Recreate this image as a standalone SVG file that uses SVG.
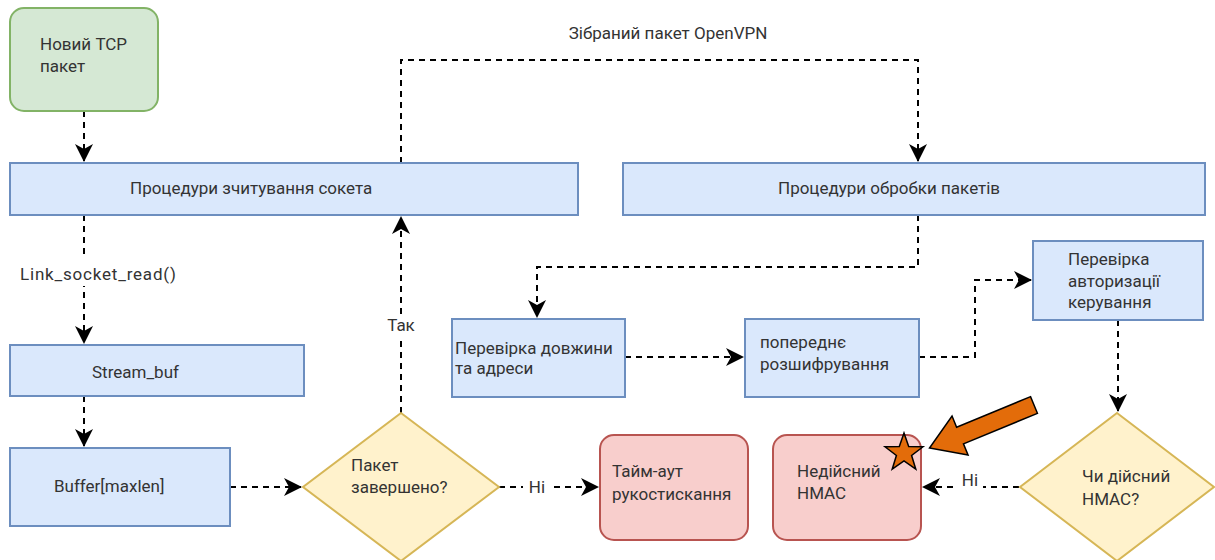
<svg xmlns="http://www.w3.org/2000/svg" width="1215" height="560" viewBox="0 0 1215 560">
  <defs>
    <style>
      text { font-family: Roboto, "Liberation Sans", sans-serif; font-size: 17px; fill: #333333; }
      .blue { fill: #dae8fc; stroke: #6c8ebf; stroke-width: 2; }
      .green { fill: #d5e8d4; stroke: #82b366; stroke-width: 2; }
      .yellow { fill: #fff2cc; stroke: #d6b656; stroke-width: 2; }
      .red { fill: #f8cecc; stroke: #b85450; stroke-width: 2; }
      .edge { fill: none; stroke: #000000; stroke-width: 2; stroke-dasharray: 6 5; }
      .lblbg { fill: #ffffff; }
    </style>
    <marker id="arrow" viewBox="0 0 18 20" refX="17" refY="10" markerWidth="18" markerHeight="20" markerUnits="userSpaceOnUse" orient="auto">
      <path d="M0,1 L18,10 L0,19 L5,10 z" fill="#000000"/>
    </marker>
  </defs>

  <rect width="1215" height="560" fill="#ffffff"/>

  <!-- connectors -->
  <g id="connectors">
    <path class="edge" d="M84,111 V161" marker-end="url(#arrow)"/>
    <path class="edge" d="M401,163 V60 H918 V161" marker-end="url(#arrow)"/>
    <path class="edge" d="M84,215 V343" marker-end="url(#arrow)"/>
    <path class="edge" d="M84,396 V446" marker-end="url(#arrow)"/>
    <path class="edge" d="M230,487 H301" marker-end="url(#arrow)"/>
    <path class="edge" d="M401,413 V217" marker-end="url(#arrow)"/>
    <path class="edge" d="M499,487 H598" marker-end="url(#arrow)"/>
    <path class="edge" d="M918,215 V267 H537 V317" marker-end="url(#arrow)"/>
    <path class="edge" d="M625,357 H743" marker-end="url(#arrow)"/>
    <path class="edge" d="M919,357 H975 V280 H1031" marker-end="url(#arrow)"/>
    <path class="edge" d="M1118,320 V411" marker-end="url(#arrow)"/>
    <path class="edge" d="M1019,487 H923" marker-end="url(#arrow)"/>

    <!-- edge labels -->
    <text x="668" y="39" text-anchor="middle">Зібраний пакет OpenVPN</text>
    <rect class="lblbg" x="16" y="256" width="174" height="30"/>
    <text x="20" y="280" font-size="21" letter-spacing="0.8">Link_socket_read()</text>
    <rect class="lblbg" x="384" y="314" width="34" height="24"/>
    <text x="401" y="331" text-anchor="middle" font-size="16">Так</text>
    <rect class="lblbg" x="523" y="476" width="28" height="24"/>
    <text x="537" y="493" text-anchor="middle" font-size="16">Ні</text>
    <rect class="lblbg" x="957" y="470" width="26" height="22"/>
    <text x="970" y="486" text-anchor="middle" font-size="16" fill="#777777">Ні</text>
  </g>

  <g id="node-new-tcp">
    <rect class="green" x="10" y="8" width="148" height="103" rx="14"/>
    <text x="40" y="50">Новий TCP</text>
    <text x="40" y="72">пакет</text>
  </g>

  <g id="node-socket-read">
    <rect class="blue" x="10" y="163" width="568" height="52"/>
    <text x="130" y="194">Процедури зчитування сокета</text>
  </g>

  <g id="node-packet-proc">
    <rect class="blue" x="623" y="163" width="582" height="52"/>
    <text x="778" y="194">Процедури обробки пакетів</text>
  </g>

  <g id="node-stream-buf">
    <rect class="blue" x="10" y="345" width="294" height="51"/>
    <text x="92" y="378">Stream_buf</text>
  </g>

  <g id="node-buffer">
    <rect class="blue" x="10" y="448" width="220" height="78"/>
    <text x="54" y="492">Buffer[maxlen]</text>
  </g>

  <g id="node-packet-done">
    <polygon class="yellow" points="401,413 499,487 401,561 303,487"/>
    <text x="351" y="471">Пакет</text>
    <text x="351" y="493">завершено?</text>
  </g>

  <g id="node-timeout">
    <rect class="red" x="600" y="435" width="148" height="105" rx="14"/>
    <text x="612" y="477">Тайм-аут</text>
    <text x="612" y="500">рукостискання</text>
  </g>

  <g id="node-len-check">
    <rect class="blue" x="452" y="319" width="173" height="78"/>
    <text x="455" y="354">Перевірка довжини</text>
    <text x="455" y="374">та адреси</text>
  </g>

  <g id="node-predecrypt">
    <rect class="blue" x="745" y="319" width="174" height="78"/>
    <text x="760" y="348">попереднє</text>
    <text x="760" y="370">розшифрування</text>
  </g>

  <g id="node-auth-check">
    <rect class="blue" x="1033" y="241" width="170" height="79"/>
    <text x="1068" y="265">Перевірка</text>
    <text x="1068" y="287">авторизації</text>
    <text x="1068" y="308">керування</text>
  </g>

  <g id="node-hmac-valid">
    <polygon class="yellow" points="1117,413 1214,487 1117,561 1020,487"/>
    <text x="1082" y="482">Чи дійсний</text>
    <text x="1082" y="505">HMAC?</text>
  </g>

  <g id="node-hmac-invalid">
    <rect class="red" x="773" y="435" width="148" height="105" rx="14"/>
    <text x="797" y="477">Недійсний</text>
    <text x="797" y="499">HMAC</text>
  </g>

  <!-- highlight marks -->
  <g id="highlight">
    <polygon fill="#e36c0a" stroke="#000000" stroke-width="1.5"
      points="904,433 908.7,446.5 923,446.8 911.6,455.5 915.8,469.2 904,461 892.2,469.2 896.4,455.5 885,446.8 899.3,446.5"/>
    <path fill="#e36c0a" stroke="#000000" stroke-width="1.5"
      transform="translate(1034,405) rotate(157.6)"
      d="M0,-9 L80,-9 L80,-21 L113,0 L80,21 L80,9 L0,9 z"/>
  </g>
</svg>
